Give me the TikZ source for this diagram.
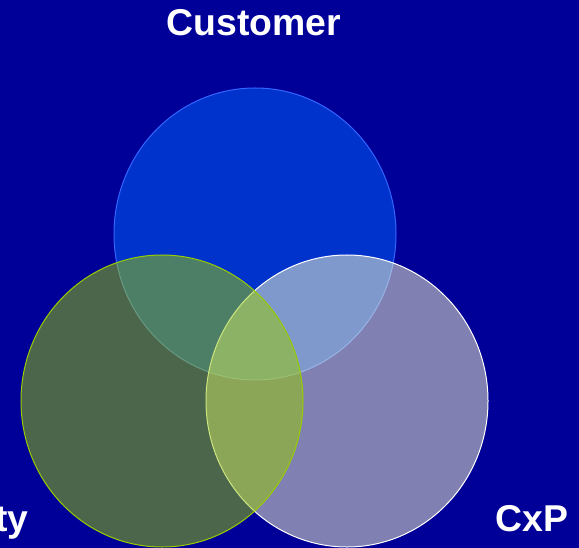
\documentclass[tikz,border=0pt]{standalone}
\usepackage{fontspec}
\setmainfont{Liberation Sans}
\usetikzlibrary{shapes.geometric}
\usetikzlibrary{positioning}
\definecolor{slidebg}{HTML}{000099}
\definecolor{custfill}{HTML}{0033CC}
\definecolor{custedge}{HTML}{3366FF}
\definecolor{cxpfill}{HTML}{FFFFCC}
\definecolor{qualfill}{HTML}{99CC00}

\begin{document}
\begin{tikzpicture}[x=1bp, y=-1bp, thick]
    \tikzstyle{sets}=[ellipse, inner sep=0pt, minimum width=282bp,
                      minimum height=292bp, line width=1bp]
    \tikzstyle{custset}=[sets, draw=custedge, fill=custfill]
    \tikzstyle{cxpset}=[sets, draw=white, fill=cxpfill, fill opacity=0.5]
    \tikzstyle{qualset}=[sets, draw=qualfill, fill=qualfill, fill opacity=0.5]
    \tikzstyle{labels}=[text=white, inner sep=0pt,
                        font=\fontsize{37.5}{42}\selectfont\bfseries]
    % Slide background
    \fill[slidebg] (0,0) rectangle (579,548);
    \useasboundingbox (0,0) rectangle (579,548);
    % Place the three sets
    \foreach \place/\name/\kind in {(255,234)/cust/custset, (347,401)/cxp/cxpset, (162,401)/qual/qualset}
        \node[\kind] (\name) at \place {};
    % Set labels
    \node[labels, anchor=base] (custlabel) at (254,36) {Customer};
    \node[labels, anchor=base east] (quallabel) at (29,531) {ty};
    \node[labels, anchor=base] (cxplabel) at (532,531) {CxP};
\end{tikzpicture}
\end{document}
